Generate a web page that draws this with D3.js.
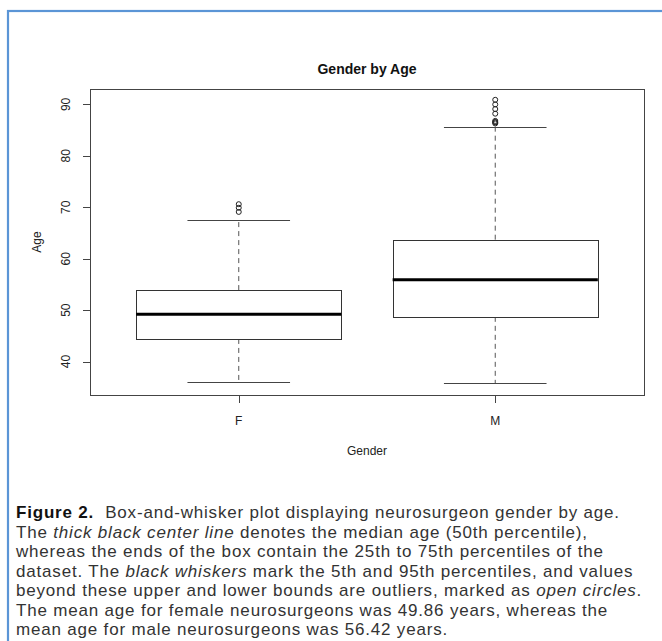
<!DOCTYPE html>
<html>
<head>
<meta charset="utf-8">
<script src="https://cdn.jsdelivr.net/npm/d3@7"></script>
<style>
  html, body { margin: 0; padding: 0; background: #fff; }
  svg { display: block; }
</style>
</head>
<body>
<div id="chart"></div>
<script>
// box plot values (years)
var categories = ["F", "M"];
var lowerWhisker = [36.0, 35.8];
var q1 = [44.4, 48.7];
var median = [49.2, 55.9];
var q3 = [53.9, 63.7];
var upperWhisker = [67.6, 85.7];
var outliers = [
  [69.1, 69.9, 70.6],
  [86.3, 86.5, 86.6, 86.8, 88.2, 89.1, 90.0, 90.9]
];
var yTicks = [40, 50, 60, 70, 80, 90];

// caption lines, each a list of [style, text]
var captionLines = [
  [["b", "Figure 2."], ["n", "  Box-and-whisker plot displaying neurosurgeon gender by age."]],
  [["n", "The "], ["i", "thick black center line"], ["n", " denotes the median age (50th percentile),"]],
  [["n", "whereas the ends of the box contain the 25th to 75th percentiles of the"]],
  [["n", "dataset. The "], ["i", "black whiskers"], ["n", " mark the 5th and 95th percentiles, and values"]],
  [["n", "beyond these upper and lower bounds are outliers, marked as "], ["i", "open circles"], ["n", "."]],
  [["n", "The mean age for female neurosurgeons was 49.86 years, whereas the"]],
  [["n", "mean age for male neurosurgeons was 56.42 years."]]
];

var W = 662, H = 641;
var plot = {left: 90, right: 644, top: 89, bottom: 395};

var svg = d3.select("#chart").append("svg")
  .attr("width", W)
  .attr("height", H);

// blue figure frame (open to the right and bottom)
svg.append("rect")
  .attr("x", 8).attr("y", 11)
  .attr("width", W + 20).attr("height", H + 20)
  .attr("fill", "none")
  .attr("stroke", "#5b95d6")
  .attr("stroke-width", 2.2);

// R style scales: 4% padding on both axes
var x = d3.scaleLinear().domain([0.42, 2.58]).range([plot.left, plot.right]);
var y = d3.scaleLinear().domain([33.5, 93.0]).range([plot.bottom, plot.top]);

var boxWidth = x(0.8) - x(0);
var capWidth = boxWidth / 2;

var g = svg.append("g");
var stroke = "#333";

var boxes = g.selectAll(".box")
  .data(categories)
  .enter().append("g")
  .attr("class", "box");

// dashed whiskers
boxes.append("line")
  .attr("x1", function(d, i) { return x(i + 1); })
  .attr("x2", function(d, i) { return x(i + 1); })
  .attr("y1", function(d, i) { return y(q3[i]); })
  .attr("y2", function(d, i) { return y(upperWhisker[i]); })
  .attr("stroke", "#555").attr("stroke-dasharray", "5,4");
boxes.append("line")
  .attr("x1", function(d, i) { return x(i + 1); })
  .attr("x2", function(d, i) { return x(i + 1); })
  .attr("y1", function(d, i) { return y(q1[i]); })
  .attr("y2", function(d, i) { return y(lowerWhisker[i]); })
  .attr("stroke", "#555").attr("stroke-dasharray", "5,4");

// whisker caps
[upperWhisker, lowerWhisker].forEach(function(arr) {
  boxes.append("line")
    .attr("x1", function(d, i) { return x(i + 1) - capWidth / 2; })
    .attr("x2", function(d, i) { return x(i + 1) + capWidth / 2; })
    .attr("y1", function(d, i) { return Math.round(y(arr[i])) + 0.5; })
    .attr("y2", function(d, i) { return Math.round(y(arr[i])) + 0.5; })
    .attr("stroke", "#444");
});

// the box
boxes.append("rect")
  .attr("x", function(d, i) { return Math.round(x(i + 1) - boxWidth / 2) + 0.5; })
  .attr("y", function(d, i) { return Math.round(y(q3[i])) + 0.5; })
  .attr("width", Math.round(boxWidth))
  .attr("height", function(d, i) { return Math.round(y(q1[i]) - y(q3[i])); })
  .attr("fill", "#fff")
  .attr("stroke", stroke);

// thick median
boxes.append("line")
  .attr("x1", function(d, i) { return x(i + 1) - boxWidth / 2; })
  .attr("x2", function(d, i) { return x(i + 1) + boxWidth / 2; })
  .attr("y1", function(d, i) { return y(median[i]); })
  .attr("y2", function(d, i) { return y(median[i]); })
  .attr("stroke", "#000").attr("stroke-width", 3);

// outliers as open circles
boxes.selectAll("circle")
  .data(function(d, i) { return outliers[i].map(function(v) { return {v: v, i: i}; }); })
  .enter().append("circle")
  .attr("cx", function(d) { return x(d.i + 1); })
  .attr("cy", function(d) { return y(d.v); })
  .attr("r", 2.5)
  .attr("fill", "none")
  .attr("stroke", "#222")
  .attr("stroke-width", 1);

// plot frame
g.append("rect")
  .attr("x", plot.left + 0.5).attr("y", plot.top + 0.5)
  .attr("width", plot.right - plot.left).attr("height", plot.bottom - plot.top)
  .attr("fill", "none").attr("stroke", "#444");

// y axis ticks and rotated labels
var yAxis = g.append("g").attr("font-family", "Liberation Sans, Arial, sans-serif").attr("font-size", 12);
yAxis.selectAll(".tk")
  .data(yTicks).enter().append("line")
  .attr("x1", plot.left - 7).attr("x2", plot.left)
  .attr("y1", function(d) { return Math.round(y(d)) + 0.5; })
  .attr("y2", function(d) { return Math.round(y(d)) + 0.5; })
  .attr("stroke", "#444");
yAxis.selectAll(".lb")
  .data(yTicks).enter().append("text")
  .attr("transform", function(d) { return "translate(70," + y(d) + ") rotate(-90)"; })
  .attr("text-anchor", "middle")
  .attr("fill", "#222")
  .text(function(d) { return d; });

// x axis ticks and labels
var xAxis = g.append("g").attr("font-family", "Liberation Sans, Arial, sans-serif").attr("font-size", 12);
xAxis.selectAll(".tk")
  .data(categories).enter().append("line")
  .attr("x1", function(d, i) { return Math.round(x(i + 1)) + 0.5; })
  .attr("x2", function(d, i) { return Math.round(x(i + 1)) + 0.5; })
  .attr("y1", plot.bottom).attr("y2", plot.bottom + 8)
  .attr("stroke", "#444");
xAxis.selectAll(".lb")
  .data(categories).enter().append("text")
  .attr("x", function(d, i) { return x(i + 1); })
  .attr("y", plot.bottom + 30)
  .attr("text-anchor", "middle")
  .attr("fill", "#222")
  .text(function(d) { return d; });

// titles
var midX = (plot.left + plot.right) / 2;
svg.append("text")
  .attr("x", midX).attr("y", 74)
  .attr("text-anchor", "middle")
  .attr("font-family", "Liberation Sans, Arial, sans-serif")
  .attr("font-size", 14).attr("font-weight", "bold")
  .attr("fill", "#111")
  .text("Gender by Age");
svg.append("text")
  .attr("x", midX).attr("y", plot.bottom + 60)
  .attr("text-anchor", "middle")
  .attr("font-family", "Liberation Sans, Arial, sans-serif")
  .attr("font-size", 12).attr("fill", "#222")
  .text("Gender");
svg.append("text")
  .attr("transform", "translate(41," + (plot.top + plot.bottom) / 2 + ") rotate(-90)")
  .attr("text-anchor", "middle")
  .attr("font-family", "Liberation Sans, Arial, sans-serif")
  .attr("font-size", 12).attr("fill", "#222")
  .text("Age");

// caption
var capLeft = 16, capRight = 633, capSize = 17;
var cap = svg.append("g")
  .attr("font-family", "Liberation Sans, Arial, sans-serif")
  .attr("font-size", capSize)
  .attr("fill", "#333");

var capTexts = [];
captionLines.forEach(function(line, li) {
  var t = cap.append("text")
    .attr("x", capLeft)
    .attr("y", 518 + li * 19.5)
    .attr("xml:space", "preserve");
  line.forEach(function(seg) {
    var ts = t.append("tspan").text(seg[1]);
    if (seg[0] == "b") ts.attr("font-weight", 700).attr("font-family", "Liberation Sans Narrow, Liberation Sans, sans-serif").attr("fill", "#111");
    if (seg[0] == "i") ts.attr("font-style", "italic");
  });
  capTexts.push(t);
});

// stretch the letters a bit so the fourth line reaches the right edge like the original
var line4 = captionLines[3].map(function(s) { return s[1]; }).join("");
var w4 = capTexts[3].node().getComputedTextLength();
var spacing = Math.max(0, (capRight - capLeft - w4) / line4.length);
cap.attr("letter-spacing", spacing.toFixed(2));
</script>
</body>
</html>
